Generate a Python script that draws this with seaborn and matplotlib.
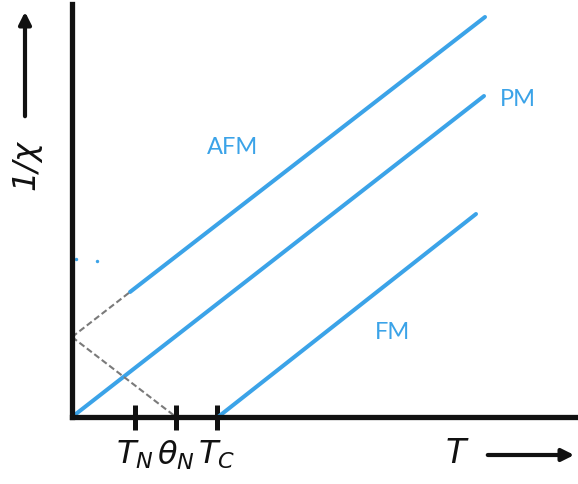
import matplotlib
matplotlib.use("Agg")
import matplotlib.pyplot as plt
import seaborn as sns
import pandas as pd

# temperature (x) and inverse susceptibility (y), arbitrary units
pm_T = [0.0, 8.24]
pm_inv_chi = [0.0, 6.42]
afm_T = [1.16, 8.26]
afm_inv_chi = [2.5, 8.0]
fm_T = [2.92, 8.08]
fm_inv_chi = [0.0, 4.06]
# dashed extrapolations of the AFM branch
ext_up_T = [0.0, 1.16]
ext_up_inv_chi = [1.6, 2.5]
ext_down_T = [0.0, 2.08]
ext_down_inv_chi = [1.6, 0.0]
# stray blue specks near the axis
speck_T = [0.07, 0.5]
speck_inv_chi = [3.16, 3.12]

tick_pos = [1.26, 2.08, 2.9]
tick_labels = [r"$T_N$", r"$\theta_N$", r"$T_C$"]

labels = ["AFM", "PM", "FM"]
label_T = [3.22, 8.92, 6.4]
label_inv_chi = [5.4, 6.36, 1.7]

blue = "#3ba3e8"
ink = "#111111"

sns.set_style("white")
plt.rcParams["mathtext.fontset"] = "dejavusans"

fig = plt.figure(figsize=(5.78, 4.85), dpi=100)
ax = fig.add_axes([72 / 578, 67 / 485, 506 / 578, 413 / 485])

for xs, ys in [(pm_T, pm_inv_chi), (afm_T, afm_inv_chi), (fm_T, fm_inv_chi)]:
    df = pd.DataFrame({"T": xs, "inv_chi": ys})
    sns.lineplot(data=df, x="T", y="inv_chi", ax=ax, color=blue, lw=2.9,
                 solid_capstyle="round")
for xs, ys in [(ext_up_T, ext_up_inv_chi), (ext_down_T, ext_down_inv_chi)]:
    df = pd.DataFrame({"T": xs, "inv_chi": ys})
    sns.lineplot(data=df, x="T", y="inv_chi", ax=ax, color="#7a7a7a", lw=1.5,
                 linestyle=(0, (3, 1.5)))
sns.scatterplot(x=speck_T, y=speck_inv_chi, ax=ax, color=blue, s=6,
                marker="o", linewidth=0)

for name, x, y in zip(labels, label_T, label_inv_chi):
    ax.text(x, y, name, color=blue, fontsize=17, family="Lato",
            ha="center", va="center")

ax.set_xlim(0, 10.12)
ax.set_ylim(0, 8.26)
ax.set_xticks(tick_pos)
ax.set_xticklabels(tick_labels, fontsize=23, color=ink)
ax.set_yticks([])
ax.tick_params(axis="x", bottom=True, direction="inout", length=18, width=3.6,
               color=ink, pad=6)
ax.set_xlabel("")
ax.set_ylabel("")
for side in ["top", "right"]:
    ax.spines[side].set_visible(False)
for side in ["left", "bottom"]:
    ax.spines[side].set_linewidth(3.8)
    ax.spines[side].set_color(ink)

# axis captions with arrows
fig.text(457 / 578, 1 - 454 / 485, r"$T$", fontsize=24, color=ink,
         ha="center", va="center")
fig.add_artist(matplotlib.patches.FancyArrowPatch(
    (485 / 578, 1 - 456 / 485), (577 / 578, 1 - 456 / 485),
    transform=fig.transFigure, arrowstyle="-|>", mutation_scale=18,
    lw=3, color=ink))
fig.text(26 / 578, 1 - 165 / 485, "1/χ", fontsize=23, color=ink,
         style="italic", rotation=90, ha="center", va="center")
fig.add_artist(matplotlib.patches.FancyArrowPatch(
    (25 / 578, 1 - 120 / 485), (25 / 578, 1 - 10 / 485),
    transform=fig.transFigure, arrowstyle="-|>", mutation_scale=18,
    lw=3, color=ink))

fig.savefig("out.png", dpi=100)
